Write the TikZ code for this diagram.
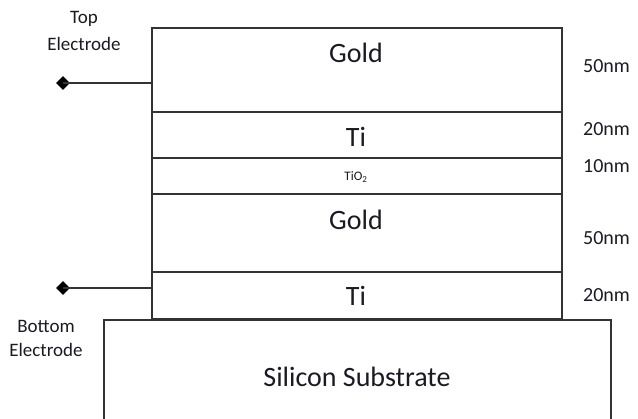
\documentclass[tikz,border=0pt]{standalone}
\usepackage{fontspec}
\setmainfont{Carlito}
\usetikzlibrary{shapes.geometric}
\definecolor{edge}{HTML}{333333}
\definecolor{ink}{HTML}{1A1A24}
\tikzset{
  layer/.style={draw=edge, line width=1.8pt, rectangle, inner sep=0pt, anchor=north west},
  big/.style={font=\fontsize{28}{28}\selectfont, text=ink, anchor=base, inner sep=0pt},
  thick/.style={font=\fontsize{20}{20}\selectfont, text=ink, anchor=base west, inner sep=0pt},
  side/.style={font=\fontsize{19}{19}\selectfont, text=ink, anchor=base, inner sep=0pt},
  tiny/.style={font=\fontsize{13}{13}\selectfont, text=ink, anchor=base, inner sep=0pt},
  pin/.style={diamond, fill=black, inner sep=0pt, minimum width=14pt, minimum height=14pt},
  lead/.style={draw=edge, line width=1.8pt}
}
\begin{document}
\begin{tikzpicture}[x=1pt,y=-1pt]
\useasboundingbox (0,0) rectangle (638,419);
\clip (0,0) rectangle (638,419);

% layer stack, top to bottom
\node[layer, minimum width=410pt, minimum height=84pt] (gold1) at (151,27) {};
\node[layer, minimum width=410pt, minimum height=46pt] (ti1) at (151,111) {};
\node[layer, minimum width=410pt, minimum height=36pt] (tio) at (151,157) {};
\node[layer, minimum width=410pt, minimum height=78pt] (gold2) at (151,193) {};
\node[layer, minimum width=410pt, minimum height=47pt] (ti2) at (151,271) {};

% substrate (runs off the lower edge)
\coordinate (subA) at (104,430);
\coordinate (subB) at (611,430);
\draw[draw=edge, line width=1.8pt] (subA) |- (ti2.south) -| (subB);

% layer names
\node[big] at (356,63) {Gold};
\node[big] at (356,147) {Ti};
\node[tiny] at (356,181) {TiO\textsubscript{2}};
\node[big] at (356,230) {Gold};
\node[big] at (356,306) {Ti};
\node[big] at (357,387) {Silicon Substrate};

% thicknesses
\node[thick] at (583,73) {50nm};
\node[thick] at (583,136) {20nm};
\node[thick] at (583,173) {10nm};
\node[thick] at (583,245) {50nm};
\node[thick] at (583,302) {20nm};

% electrode leads
\node[pin] (ptop) at (63,83) {};
\node[pin] (pbot) at (63,288) {};
\draw[lead] (ptop.center) -- (ptop.center -| gold1.west);
\draw[lead] (pbot.center) -- (pbot.center -| ti2.west);

\node[side] at (84,24) {Top};
\node[side] at (84,51) {Electrode};
\node[side] at (46,333) {Bottom};
\node[side] at (46,357) {Electrode};
\end{tikzpicture}
\end{document}
